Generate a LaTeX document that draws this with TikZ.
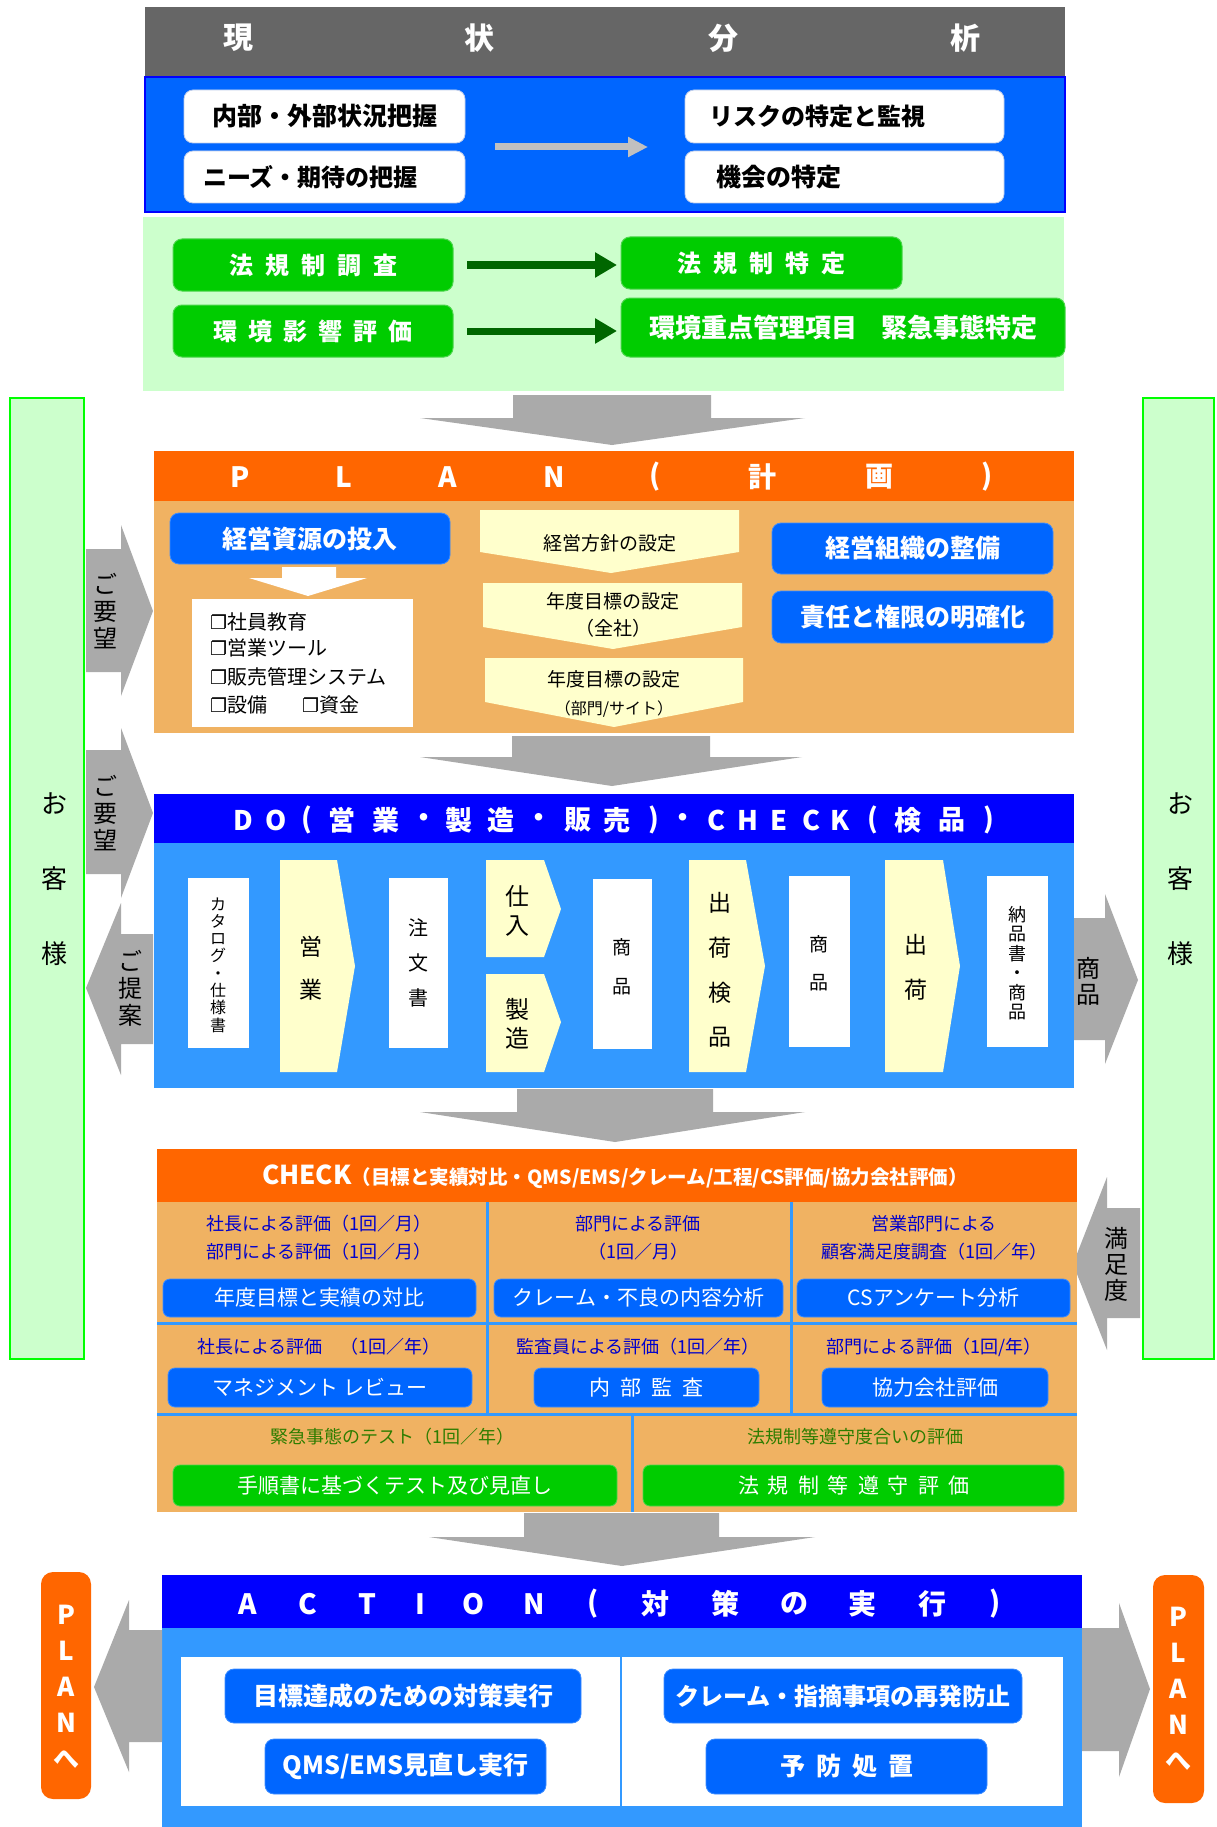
\documentclass[tikz,border=0pt]{standalone}
\usepackage{fontspec}
\setmainfont{Noto Sans CJK JP}
\newfontfamily\djv{DejaVu Sans}
\usetikzlibrary{arrows.meta,calc}
\newcommand\fz[2]{\fontsize{#1}{#2}\selectfont}
\newcommand\gsp[1]{\hspace{#1pt}}
\newcommand\mybox[7]{\node[#1,minimum width={(#5-#3)*1pt},minimum height={(#6-#4)*1pt}] (#2) at ({(#3+#5)/2},{(#4+#6)/2}) {#7};}
\newcommand\chk{{\djv\bfseries\fz{19}{19}❐}}
\definecolor{hgray}{HTML}{666666}
\definecolor{bblue}{HTML}{0066FF}
\definecolor{dblue}{HTML}{0000FF}
\definecolor{lgreen}{HTML}{CCFFCC}
\definecolor{grn}{HTML}{00CC00}
\definecolor{grnb}{HTML}{4CD64C}
\definecolor{dgreen}{HTML}{006600}
\definecolor{agray}{HTML}{AAAAAA}
\definecolor{lgray}{HTML}{C0C0C0}
\definecolor{orng}{HTML}{FF6600}
\definecolor{lorng}{HTML}{F0B262}
\definecolor{yel}{HTML}{FFFFCC}
\definecolor{lblue}{HTML}{3399FF}
\definecolor{txtblue}{HTML}{0000CC}
\definecolor{txtgreen}{HTML}{2E7D00}
\definecolor{sidegreen}{HTML}{00FF00}
\tikzset{
  wbox/.style={fill=white,draw={rgb,255:red,190;green,205;blue,235},line width=0.8pt,rounded corners=9pt},
  gbox/.style={fill=grn,draw=grnb,line width=1pt,rounded corners=9pt,text=white,font=\fz{24}{24}\bfseries},
  bbox/.style={fill=bblue,draw={rgb,255:red,60;green,140;blue,255},line width=0.8pt,rounded corners=9pt,text=white,font=\fz{25}{25}\bfseries},
  cbox/.style={fill=bblue,draw={rgb,255:red,60;green,140;blue,255},line width=0.8pt,rounded corners=7pt,text=white,font=\fz{21}{21}},
  cgbox/.style={fill=grn,draw=grnb,line width=0.8pt,rounded corners=7pt,text=white,font=\fz{21}{21}},
  hchar/.style={text=white,font=\fz{28}{28}\bfseries},
  vtext/.style={align=center,text=black},
  rtxt/.style={align=center,text=txtblue,font=\fz{18}{28}},
  gtxt/.style={align=center,text=txtgreen,font=\fz{18}{28}},
  chev/.style={align=center,text=black,font=\fz{19}{27}},
  lsttxt/.style={anchor=west,text=black,font=\fz{20}{20}},
  sidetxt/.style={align=center,text=black,font=\fz{24}{27}},
}
\begin{document}
\begin{tikzpicture}[x=1pt,y=-1pt,every node/.style={inner sep=0pt,outer sep=0pt}]
\useasboundingbox (0,0) rectangle (1216,1827);
\fill[white] (0,0) rectangle (1216,1827);

% ---------- current status header
\mybox{fill=hgray}{hdr}{145}{7}{1065}{76}{}
\foreach \c/\x in {現/238,状/479,分/723,析/965}
  \node[text=white,font=\fz{30}{30}\bfseries] (hc\x) at (\x,38) {\c};

\mybox{fill=bblue,draw=dblue,line width=2.5pt}{cur}{145}{77}{1065}{212}{}
\mybox{wbox}{wb1}{184}{90}{465}{143}{}
\mybox{wbox}{wb2}{184}{151}{465}{203}{}
\mybox{wbox}{wb3}{685}{90}{1004}{143}{}
\mybox{wbox}{wb4}{685}{151}{1004}{203}{}
\node[anchor=west,font=\fz{25}{25}\bfseries] (t1) at ([xshift=28pt]wb1.west) {内部・外部状況把握};
\node[anchor=west,font=\fz{24}{24}\bfseries] (t2) at ([xshift=19pt]wb2.west) {ニーズ・期待の把握};
\node[anchor=west,font=\fz{24}{24}\bfseries] (t3) at ([xshift=24pt]wb3.west) {リスクの特定と監視};
\node[anchor=west,font=\fz{25}{25}\bfseries] (t4) at ([xshift=31pt]wb4.west) {機会の特定};
\draw[lgray,line width=7pt,-{Triangle[length=20pt,width=19pt]},shorten <=30pt,shorten >=37pt]
  ($(wb1.south east)!0.5!(wb2.north east)$) -- ($(wb3.south west)!0.5!(wb4.north west)$);

% ---------- laws
\mybox{fill=lgreen}{law}{143}{217}{1064}{391}{}
\mybox{gbox}{g1}{173}{239}{453}{291}{法\gsp{12}規\gsp{12}制\gsp{12}調\gsp{12}査}
\mybox{gbox}{g2}{173}{305}{453}{357}{環\gsp{11}境\gsp{11}影\gsp{11}響\gsp{11}評\gsp{11}価}
\mybox{gbox}{g3}{621}{237}{902}{289}{法\gsp{12}規\gsp{12}制\gsp{12}特\gsp{12}定}
\mybox{gbox,font=\fz{26}{26}\bfseries}{g4}{621}{298}{1065}{357}{環境重点管理項目\gsp{24}緊急事態特定}
\draw[dgreen,line width=7pt,-{Triangle[length=22pt,width=24pt]},shorten <=14pt,shorten >=4pt] (g1.east) -- (g1.east -| g3.west);
\draw[dgreen,line width=7pt,-{Triangle[length=22pt,width=24pt]},shorten <=14pt,shorten >=4pt] (g2.east) -- (g2.east -| g4.west);

% ---------- big down arrows
\fill[agray] (513,395) -- (711,395) -- (711,418) -- (805,418) -- (612,445) -- (420,418) -- (513,418) -- cycle;
\fill[agray] (512,736) -- (710,736) -- (710,757) -- (802,757) -- (612,786) -- (420,757) -- (512,757) -- cycle;
\fill[agray] (517,1089) -- (713,1089) -- (713,1112) -- (805,1112) -- (615,1142) -- (420,1112) -- (517,1112) -- cycle;
\fill[agray] (524,1513) -- (719,1513) -- (719,1537) -- (815,1537) -- (622,1566) -- (429,1537) -- (524,1537) -- cycle;

% ---------- customers (sides)
\mybox{fill=lgreen,draw=sidegreen,line width=2pt}{cusL}{10}{398}{84}{1359}{}
\mybox{fill=lgreen,draw=sidegreen,line width=2pt}{cusR}{1143}{398}{1214}{1359}{}
\node[align=center,font=\fz{26}{75}] (cusLt) at (54,879) {お\\客\\様};
\node[align=center,font=\fz{26}{75}] (cusRt) at (1180,879) {お\\客\\様};

\fill[agray] (86,549) -- (121,549) -- (121,525) -- (153,611) -- (121,696) -- (121,672) -- (86,672) -- cycle;
\node[sidetxt] (yb1) at (105,611) {ご\\要\\望};
\fill[agray] (86,750) -- (121,750) -- (121,728) -- (153,813) -- (121,898) -- (121,874) -- (86,874) -- cycle;
\node[sidetxt] (yb2) at (105,813) {ご\\要\\望};
\fill[agray] (153,934) -- (121,934) -- (121,903) -- (86,988) -- (121,1075) -- (121,1044) -- (153,1044) -- cycle;
\node[sidetxt] (tei) at (130,988) {ご\\提\\案};
\fill[agray] (1070,918) -- (1105,918) -- (1105,894) -- (1138,980) -- (1105,1064) -- (1105,1040) -- (1070,1040) -- cycle;
\node[sidetxt,font=\fz{24}{26}] (shoR) at (1088,981) {商\\品};
\fill[agray] (1140,1208) -- (1107,1208) -- (1107,1177) -- (1073,1264) -- (1107,1350) -- (1107,1318) -- (1140,1318) -- cycle;
\node[sidetxt,font=\fz{24}{26}] (man) at (1116,1264) {満\\足\\度};

% ---------- PLAN
\mybox{fill=orng}{planh}{154}{451}{1074}{501}{}
\mybox{fill=lorng}{planb}{154}{501}{1074}{733}{}
\foreach \c/\x in {P/240,L/344,A/448,N/554,{(}/655,計/762,画/879,{)}/987}
  \node[hchar] (pc\x) at (\x,477) {\c};
\mybox{bbox}{res}{170}{513}{450}{564}{経営資源の投入}
\fill[white] (282,567) -- (336,567) -- (336,578) -- (367,578) -- (308,596) -- (249,578) -- (282,578) -- cycle;
\mybox{fill=white}{lst}{192}{599}{413}{727}{}
\node[lsttxt] (l1) at (210,622) {\chk 社員教育};
\node[lsttxt] (l2) at (210,648) {\chk 営業ツール};
\node[lsttxt] (l3) at (210,677) {\chk 販売管理システム};
\node[lsttxt] (l4) at (210,705) {\chk 設備\hspace{35pt}\chk 資金};
\fill[yel] (480,510) -- (739,510) -- (739,552) -- (611,573) -- (480,552) -- cycle;
\fill[yel] (483,583) -- (742,583) -- (742,627) -- (613,649) -- (483,627) -- cycle;
\fill[yel] (485,658) -- (743,658) -- (743,702) -- (614,727) -- (485,702) -- cycle;
\node[chev] (c1) at (610,543) {経営方針の設定};
\node[chev] (c2) at (613,615) {年度目標の設定\\（全社）};
\node[chev,font=\fz{19}{28}] (c3) at (614,694) {年度目標の設定\\{\fz{16}{28}（部門/サイト）}};
\mybox{bbox}{org}{772}{523}{1053}{574}{経営組織の整備}
\mybox{bbox}{resp}{772}{591}{1053}{643}{責任と権限の明確化}

% ---------- DO
\mybox{fill=dblue}{doh}{154}{794}{1074}{843}{}
\mybox{fill=lblue}{dob}{154}{843}{1074}{1088}{}
\foreach \c/\x in {D/243,O/276,{(}/307,営/342,業/386,・/424,製/459,造/501,・/539,販/578,売/617,{)}/654,・/683,C/716,H/748,E/779,C/811,K/840,{(}/873,検/908,品/952,{)}/989}
  \node[text=white,font=\fz{27}{27}\bfseries] (dc\x) at (\x,820) {\c};
\mybox{fill=white}{w1}{188}{878}{249}{1048}{}
\node[vtext,font=\fz{16}{17.3}] (w1t) at (218,965) {カ\\タ\\ロ\\グ\\・\\仕\\様\\書};
\fill[yel] (280,860) -- (337,860) -- (355,966) -- (337,1072) -- (280,1072) -- cycle;
\node[vtext,font=\fz{23}{43}] (y1t) at (311,968) {営\\業};
\mybox{fill=white}{w2}{389}{878}{448}{1048}{}
\node[vtext,font=\fz{20}{35}] (w2t) at (418,963) {注\\文\\書};
\fill[yel] (486,860) -- (544,860) -- (561,909) -- (544,957) -- (486,957) -- cycle;
\node[vtext,font=\fz{24}{29}] (y2t) at (517,911) {仕\\入};
\fill[yel] (486,974) -- (544,974) -- (561,1022) -- (544,1072) -- (486,1072) -- cycle;
\node[vtext,font=\fz{24}{29}] (y3t) at (517,1024) {製\\造};
\mybox{fill=white}{w3}{593}{879}{652}{1049}{}
\node[vtext,font=\fz{19}{39}] (w3t) at (622,967) {商\\品};
\fill[yel] (689,860) -- (746,860) -- (765,966) -- (746,1072) -- (689,1072) -- cycle;
\node[vtext,font=\fz{23}{44.7}] (y4t) at (720,970) {出\\荷\\検\\品};
\mybox{fill=white}{w4}{789}{876}{850}{1047}{}
\node[vtext,font=\fz{19}{38}] (w4t) at (819,963) {商\\品};
\fill[yel] (885,860) -- (943,860) -- (960,966) -- (943,1072) -- (885,1072) -- cycle;
\node[vtext,font=\fz{23}{45}] (y5t) at (916,967) {出\\荷};
\mybox{fill=white}{w5}{987}{876}{1048}{1047}{}
\node[vtext,font=\fz{18}{19.5}] (w5t) at (1017,963) {納\\品\\書\\・\\商\\品};

% ---------- CHECK
\mybox{fill=orng}{chh}{157}{1149}{1077}{1202}{}
\mybox{fill=lorng}{chb}{157}{1202}{1077}{1512}{}
\draw[lblue,line width=3pt] (157,1323) -- (1077,1323);
\draw[lblue,line width=3pt] (157,1414) -- (1077,1414);
\draw[lblue,line width=3pt] (487,1202) -- (487,1414);
\draw[lblue,line width=3pt] (791,1202) -- (791,1414);
\draw[lblue,line width=3pt] (632,1414) -- (632,1512);
\node[text=white,font=\bfseries] (chht) at (615,1177) {{\fz{26}{26}CHECK}{\fz{19.5}{20}（目標と実績対比・QMS/EMS/クレーム/工程/CS評価/協力会社評価）}};
\node[rtxt] (r1a) at (319,1238) {社長による評価（1回／月）\\部門による評価（1回／月）};
\node[rtxt] (r1b) at (638,1238) {部門による評価\\（1回／月）};
\node[rtxt] (r1c) at (934,1238) {営業部門による\\顧客満足度調査（1回／年）};
\mybox{cbox}{cb1}{163}{1279}{476}{1317}{年度目標と実績の対比}
\mybox{cbox}{cb2}{494}{1279}{783}{1317}{クレーム・不良の内容分析}
\mybox{cbox}{cb3}{797}{1279}{1070}{1317}{CSアンケート分析}
\node[rtxt] (r2a) at (319,1347) {社長による評価　（1回／年）};
\node[rtxt] (r2b) at (638,1347) {監査員による評価（1回／年）};
\node[rtxt] (r2c) at (934,1347) {部門による評価（1回/年）};
\mybox{cbox}{cb4}{168}{1368}{472}{1407}{マネジメント レビュー}
\mybox{cbox}{cb5}{534}{1368}{759}{1407}{内\gsp{10}部\gsp{10}監\gsp{10}査}
\mybox{cbox}{cb6}{822}{1368}{1048}{1407}{協力会社評価}
\node[gtxt] (r3a) at (392,1437) {緊急事態のテスト（1回／年）};
\node[gtxt] (r3b) at (855,1437) {法規制等遵守度合いの評価};
\mybox{cgbox}{cg1}{173}{1465}{617}{1506}{手順書に基づくテスト及び見直し}
\mybox{cgbox}{cg2}{643}{1465}{1064}{1506}{法\gsp{9}規\gsp{9}制\gsp{9}等\gsp{9}遵\gsp{9}守\gsp{9}評\gsp{9}価}

% ---------- ACTION
\mybox{fill=dblue}{ach}{162}{1575}{1082}{1628}{}
\mybox{fill=lblue}{acb}{162}{1628}{1082}{1827}{}
\mybox{fill=white}{acw}{181}{1657}{1063}{1806}{}
\draw[lblue,line width=2pt] (621,1657) -- (621,1806);
\foreach \c/\x in {A/248,C/308,T/367,I/420,O/473,N/534,{(}/593,対/655,策/725,の/794,実/862,行/932,{)}/995}
  \node[hchar] (ac\x) at (\x,1604) {\c};
\mybox{bbox}{a1}{225}{1669}{581}{1723}{目標達成のための対策実行}
\mybox{bbox}{a2}{265}{1739}{546}{1794}{QMS/EMS見直し実行}
\mybox{bbox,font=\fz{24}{24}\bfseries}{a3}{664}{1669}{1022}{1723}{クレーム・指摘事項の再発防止}
\mybox{bbox}{a4}{706}{1739}{987}{1794}{予\gsp{11}防\gsp{11}処\gsp{11}置}

\fill[agray] (162,1630) -- (129,1630) -- (129,1600) -- (94,1687) -- (129,1772) -- (129,1742) -- (162,1742) -- cycle;
\fill[agray] (1082,1628) -- (1119,1628) -- (1119,1603) -- (1150,1689) -- (1119,1777) -- (1119,1751) -- (1082,1751) -- cycle;
\mybox{fill=orng,rounded corners=12pt}{plL}{41}{1572}{91}{1799}{}
\mybox{fill=orng,rounded corners=12pt}{plR}{1153}{1575}{1204}{1803}{}
\node[align=center,text=white,font=\fz{26}{36}\bfseries] (plLt) at (66,1687) {P\\L\\A\\N\\へ};
\node[align=center,text=white,font=\fz{26}{36}\bfseries] (plRt) at (1178,1689) {P\\L\\A\\N\\へ};
\end{tikzpicture}
\end{document}
